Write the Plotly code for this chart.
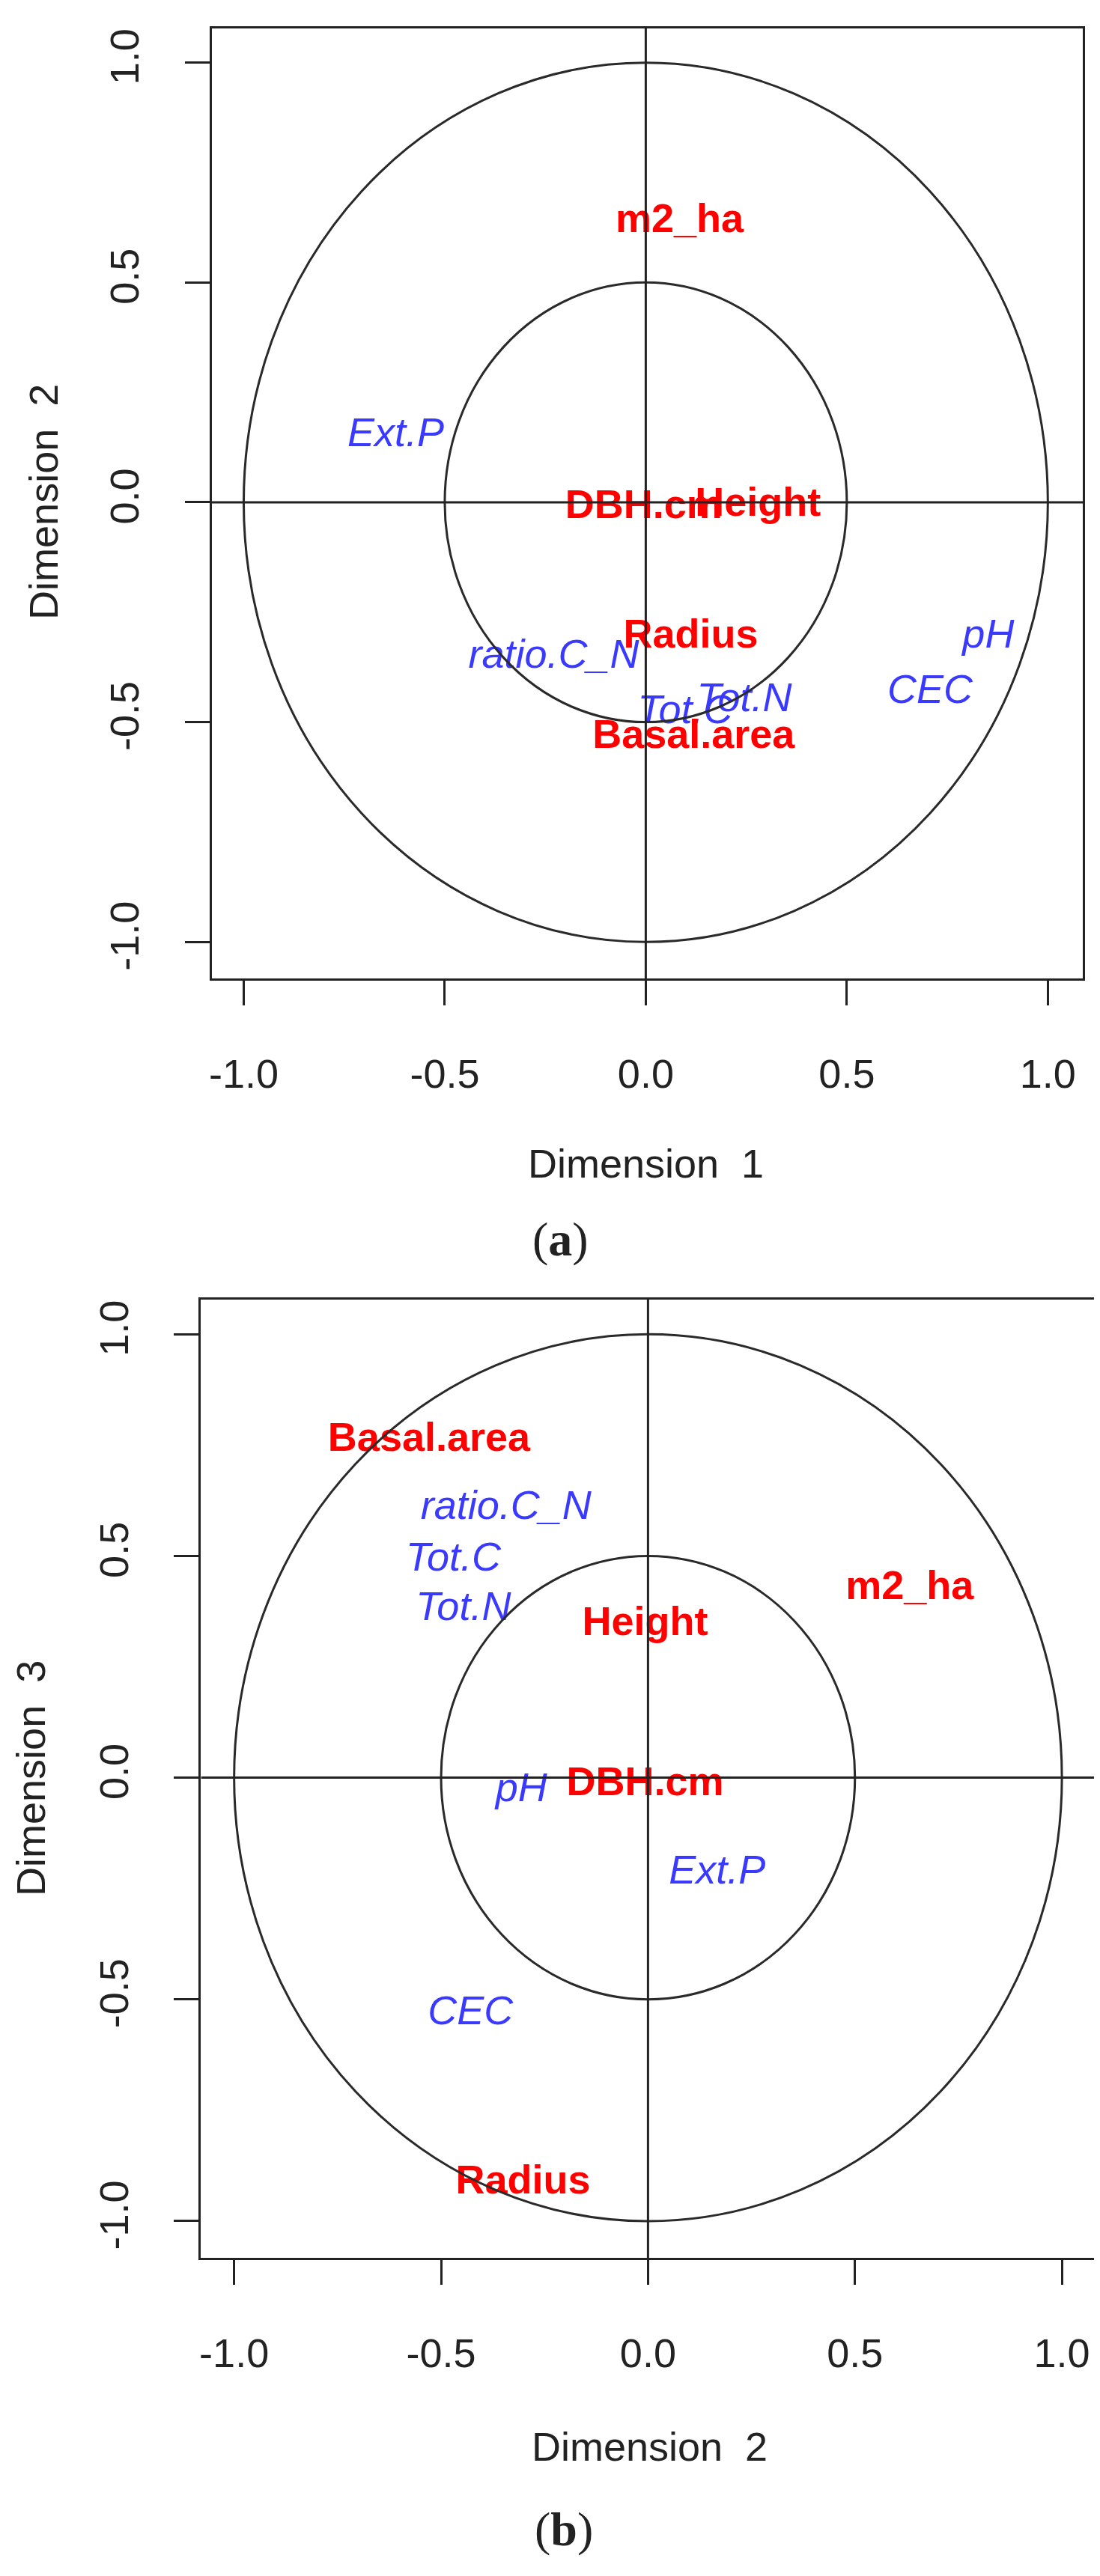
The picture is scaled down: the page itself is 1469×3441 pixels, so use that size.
import plotly.graph_objects as go

# Panel (a): Dimension 1 vs Dimension 2
a_red = ["m2_ha", "DBH.cm", "Height", "Radius", "Basal.area"]
a_red_x = [0.084, -0.005, 0.279, 0.112, 0.119]
a_red_y = [0.637, -0.013, -0.007, -0.308, -0.536]
a_blue = ["Ext.P", "ratio.C_N", "Tot.C", "Tot.N", "pH", "CEC"]
a_blue_x = [-0.622, -0.229, 0.098, 0.245, 0.852, 0.707]
a_blue_y = [0.151, -0.353, -0.480, -0.452, -0.308, -0.434]

# Panel (b): Dimension 2 vs Dimension 3
b_red = ["Basal.area", "Height", "m2_ha", "DBH.cm", "Radius"]
b_red_x = [-0.529, -0.007, 0.632, -0.007, -0.302]
b_red_y = [0.760, 0.344, 0.425, -0.017, -0.915]
b_blue = ["ratio.C_N", "Tot.C", "Tot.N", "pH", "Ext.P", "CEC"]
b_blue_x = [-0.343, -0.470, -0.446, -0.306, 0.167, -0.429]
b_blue_y = [0.606, 0.490, 0.379, -0.031, -0.216, -0.534]

tick_vals = [-1.0, -0.5, 0.0, 0.5, 1.0]
tick_text = ["-1.0", "-0.5", "0.0", "0.5", "1.0"]

RED = "#ff0000"
BLUE = "#3a3aff"
FONT = "Liberation Sans"

fig = go.Figure()
panels = [
    ("x", "y", a_red, a_red_x, a_red_y, a_blue, a_blue_x, a_blue_y),
    ("x2", "y2", b_red, b_red_x, b_red_y, b_blue, b_blue_x, b_blue_y),
]
for xa, ya, rn, rx, ry, bn, bx, by in panels:
    fig.add_trace(go.Scatter(x=bx, y=by, text=bn, mode="text", xaxis=xa, yaxis=ya,
                             textfont=dict(family=FONT, size=54, color=BLUE, style="italic"),
                             showlegend=False, hoverinfo="skip"))
    fig.add_trace(go.Scatter(x=rx, y=ry, text=rn, mode="text", xaxis=xa, yaxis=ya,
                             textfont=dict(family=FONT, size=54, color=RED, weight="bold"),
                             showlegend=False, hoverinfo="skip"))

shapes = []
for xr, yr in [("x", "y"), ("x2", "y2")]:
    for r in [1.0, 0.5]:
        shapes.append(dict(type="circle", xref=xr, yref=yr, x0=-r, x1=r, y0=-r, y1=r,
                           line=dict(color="#2a2a2a", width=3)))
    shapes.append(dict(type="line", xref=xr, yref=yr, x0=-1.08, x1=1.087, y0=0, y1=0,
                       line=dict(color="#222222", width=3)))
    shapes.append(dict(type="line", xref=xr, yref=yr, x0=0, x1=0, y0=-1.083, y1=1.078,
                       line=dict(color="#222222", width=3)))

axcommon = dict(tickvals=tick_vals, ticktext=tick_text, ticks="outside",
                ticklen=33, tickwidth=3, tickcolor="#222222", showline=True, mirror=True,
                linecolor="#222222", linewidth=3, showgrid=False, zeroline=False,
                tickfont=dict(family=FONT, size=54, color="#222222"))

fig.update_layout(
    width=1469, height=3441, margin=dict(l=0, r=0, t=0, b=0),
    paper_bgcolor="white", plot_bgcolor="white", shapes=shapes,
    xaxis=dict(axcommon, range=[-1.08, 1.087], domain=[0.1852, 0.9789], anchor="y",
               ticklabelstandoff=45),
    yaxis=dict(axcommon, range=[-1.083, 1.078], domain=[0.6225, 0.9913], anchor="x",
               tickangle=-90, ticklabelstandoff=40),
    xaxis2=dict(axcommon, range=[-1.08, 1.08], domain=[0.1756, 0.990], anchor="y2",
                ticklabelstandoff=45),
    yaxis2=dict(axcommon, range=[-1.083, 1.078], domain=[0.1258, 0.4978], anchor="x2",
                tickangle=-90, ticklabelstandoff=40),
)

def ann(text, x, y, size=54, angle=0, family=FONT):
    fig.add_annotation(text=text, x=x / 1469, y=1 - y / 3441, xref="paper", yref="paper",
                       showarrow=False, textangle=angle, xanchor="center", yanchor="middle",
                       font=dict(family=family, size=size, color="#222222"))

ann("Dimension  1", 853, 1546)
ann("Dimension  2", 47, 662, angle=-90)
ann("Dimension  2", 858, 3260)
ann("Dimension  3", 30, 2367, angle=-90)
ann("(<b>a</b>)", 739, 1647, size=64, family="Liberation Serif")
ann("(<b>b</b>)", 744, 3370, size=64, family="Liberation Serif")

fig.write_html("out.html")
